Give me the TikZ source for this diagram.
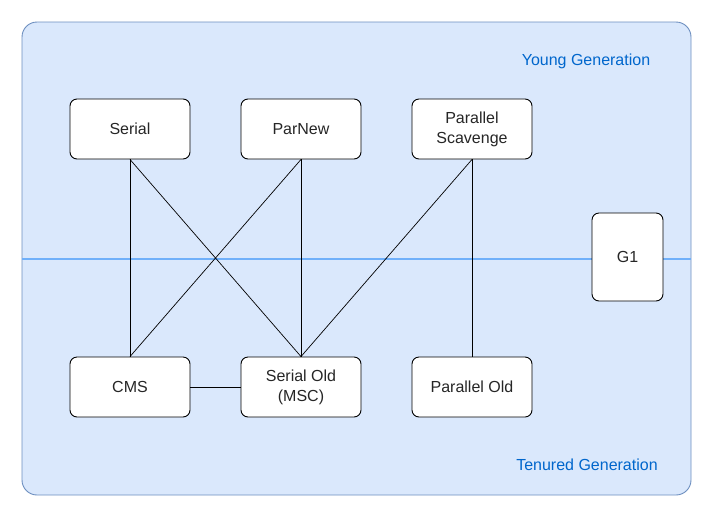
\documentclass[tikz,border=0pt]{standalone}
\usepackage{fontspec}
\setmainfont{Liberation Sans}
\usepackage{xcolor}
\usepackage{tikz}
\usetikzlibrary{positioning,calc}

\definecolor{genfill}{HTML}{DAE8FC}
\definecolor{gendraw}{HTML}{6C8EBF}
\definecolor{genline}{HTML}{70B0FA}
\definecolor{gentext}{HTML}{0066CC}

\begin{document}
\begin{tikzpicture}[
    x=1pt, y=-1pt,
    gc/.style={rectangle, rounded corners=7pt, draw=black, line width=0.9pt,
               fill=white, minimum width=120pt, minimum height=60pt, align=center,
               font=\fontsize{16}{20}\selectfont, text=black!85},
    gen/.style={font=\fontsize{16}{19}\selectfont, text=gentext},
    link/.style={draw=black, line width=0.7pt},
]
    \useasboundingbox (0,0) rectangle (707,515);

    % Heap area
    \draw[draw=gendraw, line width=0.9pt, fill=genfill, rounded corners=15pt] (22,22) rectangle (691,495);
    \coordinate (sepl) at (22,259);
    \coordinate (sepr) at (691,259);
    \draw[genline, line width=1.5pt] (sepl) -- (sepr);

    \node[gen] (young) at (586,61) {Young Generation};
    \node[gen] (tenured) at (587,465) {Tenured Generation};

    % Young collectors
    \node[gc] (serial) at (130,129) {Serial};
    \node[gc] (parnew) at (301,129) {ParNew};
    \node[gc] (pscav) at (472,129) {Parallel\\Scavenge};

    % Tenured collectors
    \node[gc] (cms) at (130,387) {CMS};
    \node[gc] (serold) at (301,387) {Serial Old\\(MSC)};
    \node[gc] (parold) at (472,387) {Parallel Old};

    \node[gc, minimum width=71pt, minimum height=88pt] (g1) at (627.5,257) {G1};

    % Combinations
    \draw[link] (serial.south) -- (cms.north);
    \draw[link] (serial.south) -- (serold.north);
    \draw[link] (parnew.south) -- (cms.north);
    \draw[link] (parnew.south) -- (serold.north);
    \draw[link] (pscav.south) -- (serold.north);
    \draw[link] (pscav.south) -- (parold.north);
    \draw[link] (cms.east) -- (serold.west);
\end{tikzpicture}
\end{document}
